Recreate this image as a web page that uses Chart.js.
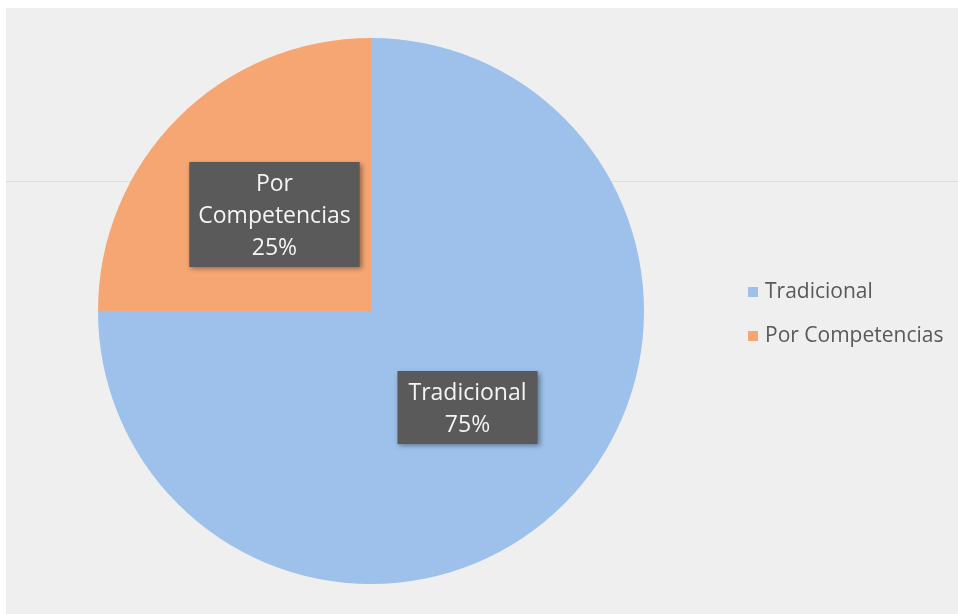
<!DOCTYPE html>
<html>
<head>
<meta charset="utf-8">
<script src="https://cdn.jsdelivr.net/npm/chart.js@4.4.1/dist/chart.umd.min.js"></script>
<style>
  html, body { margin: 0; padding: 0; background: #ffffff; }
  #wrap { width: 958px; height: 614px; }
</style>
</head>
<body>
<div id="wrap"><canvas id="pastel"></canvas></div>
<script>
// datos del gráfico
const categorias = ['Tradicional', 'Por Competencias'];
const porcentajes = [75, 25];
const colores = ['#9dc1ea', '#f5a673'];
// cómo se parte cada etiqueta en líneas
const lineasEtiqueta = [['Tradicional'], ['Por', 'Competencias']];

// fondo gris del escaneo
const fondo = {
    id: 'fondo',
    beforeDraw(chart) {
        const c = chart.ctx;
        c.save();
        c.fillStyle = '#ffffff';
        c.fillRect(0, 0, chart.width, chart.height);
        c.fillStyle = '#efefef';
        c.fillRect(6, 8, chart.width - 6, chart.height - 8);
        c.fillStyle = 'rgba(215,205,210,0.6)';
        c.fillRect(6, 181, chart.width - 6, 1);
        c.restore();
    }
};

// etiquetas en cajas grises
const etiquetas = {
    id: 'etiquetas',
    afterDatasetsDraw(chart) {
        const c = chart.ctx;
        const meta = chart.getDatasetMeta(0);
        c.save();
        c.font = '23px "Open Sans"';
        c.textAlign = 'center';
        c.textBaseline = 'middle';
        meta.data.forEach((arc, i) => {
            const p = arc.tooltipPosition();
            const lineas = lineasEtiqueta[i].concat([porcentajes[i] + '%']);
            const alto = 32;
            let ancho = 0;
            lineas.forEach(l => { ancho = Math.max(ancho, c.measureText(l).width); });
            const bw = ancho + (i === 0 ? 22 : 18);
            const bh = lineas.length * alto + 9;
            c.shadowColor = 'rgba(0,0,0,0.4)';
            c.shadowBlur = 5;
            c.shadowOffsetX = 2;
            c.shadowOffsetY = 2;
            c.fillStyle = '#5a5a5a';
            c.fillRect(p.x - bw / 2, p.y - bh / 2, bw, bh);
            c.shadowColor = 'transparent';
            c.fillStyle = '#f4f4f4';
            lineas.forEach((l, k) => {
                c.fillText(l, p.x, p.y - bh / 2 + 6 + alto * (k + 0.5));
            });
        });
        c.restore();
    }
};

// leyenda a la derecha
const leyenda = {
    id: 'leyenda',
    afterDraw(chart) {
        const c = chart.ctx;
        c.save();
        c.font = '21px "Open Sans"';
        c.textBaseline = 'middle';
        categorias.forEach((cat, i) => {
            const y = 292 + i * 44;
            c.fillStyle = colores[i];
            c.fillRect(748, y - 5, 10, 10);
            c.fillStyle = '#595959';
            c.fillText(cat, 765, y);
        });
        c.restore();
    }
};

new Chart(document.getElementById('pastel'), {
    type: 'pie',
    data: {
        labels: categorias,
        datasets: [{
            data: porcentajes,
            backgroundColor: colores,
            borderWidth: 0
        }]
    },
    options: {
        responsive: true,
        maintainAspectRatio: false,
        animation: false,
        layout: { padding: { left: 98, right: 314, top: 38, bottom: 30 } },
        plugins: {
            legend: { display: false },
            tooltip: { enabled: false }
        }
    },
    plugins: [fondo, etiquetas, leyenda]
});
</script>
</body>
</html>
